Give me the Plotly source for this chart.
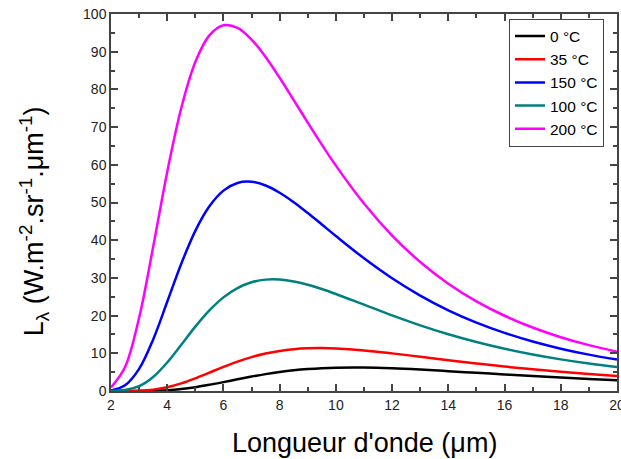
import plotly.graph_objects as go

wavelength_um = [2, 2.5, 3, 3.5, 4, 4.5, 5, 5.5, 6, 6.5, 7, 7.5, 8, 8.5, 9, 9.5, 10,
                 11, 12, 13, 14, 15, 16, 17, 18, 19, 20]

series_names = ["0 °C", "35 °C", "150 °C", "100 °C", "200 °C"]
series_colors = ["#000000", "#FF0000", "#0000FF", "#008080", "#FF00FF"]

L_0C = [0.0000135, 0.00086, 0.0116, 0.066, 0.222, 0.532, 1.013, 1.640, 2.357, 3.105, 3.824, 4.475, 5.029,
        5.475, 5.809, 6.039, 6.173, 6.208, 6.012, 5.677, 5.264, 4.824, 4.386, 3.963, 3.569, 3.208, 2.879]
L_35C = [0.00027, 0.0094, 0.0853, 0.3645, 0.991, 2.012, 3.353, 4.867, 6.392, 7.798, 8.996, 9.948, 10.64,
         11.09, 11.33, 11.38, 11.28, 10.76, 9.979, 9.090, 8.176, 7.299, 6.488, 5.749, 5.090, 4.505, 3.991]
L_150C = [0.154, 1.511, 5.861, 13.69, 23.66, 33.77, 42.48, 48.99, 53.15, 55.19, 55.50, 54.50, 52.58,
          50.07, 47.20, 44.17, 41.11, 35.21, 29.91, 25.31, 21.40, 18.13, 15.41, 13.13, 11.23, 9.645, 8.32]
L_100C = [0.0158, 0.2444, 1.283, 3.724, 7.573, 12.27, 17.07, 21.37, 24.83, 27.31, 28.84, 29.54, 29.56,
          29.07, 28.19, 27.05, 25.74, 22.90, 20.06, 17.42, 15.05, 12.99, 11.21, 9.685, 8.385, 7.278, 6.335]
L_200C = [0.928, 6.36, 19.42, 38.24, 58.12, 75.08, 87.25, 94.33, 97.00, 96.30, 93.22, 88.59, 83.08,
          77.17, 71.18, 65.35, 59.78, 49.72, 41.24, 34.23, 28.47, 23.78, 19.96, 16.84, 14.27, 12.16, 10.41]

all_series = [L_0C, L_35C, L_150C, L_100C, L_200C]

x_ticks = [2, 4, 6, 8, 10, 12, 14, 16, 18, 20]
y_ticks = [0, 10, 20, 30, 40, 50, 60, 70, 80, 90, 100]

fig = go.Figure()
for name, color, ys in zip(series_names, series_colors, all_series):
    fig.add_trace(go.Scatter(x=wavelength_um, y=ys, mode="lines", name=name,
                             line=dict(color=color, width=2.5, shape="spline", smoothing=1.0)))

axis_common = dict(
    showgrid=False, zeroline=False, showline=True, linecolor="#444", linewidth=1.5,
    mirror="allticks", ticks="inside", ticklen=7, tickwidth=1.5, tickcolor="#444",
    ticklabeloverflow="allow", automargin=False,
    tickfont=dict(family="Liberation Sans, Arial, sans-serif", size=14, color="#222"),
)

fig.update_xaxes(range=[2, 20], tickvals=x_ticks, ticktext=[str(v) for v in x_ticks],
                 minor=dict(dtick=1, ticks="inside", ticklen=4, tickwidth=1.5, tickcolor="#444"),
                 **axis_common)
fig.update_yaxes(range=[0, 100], tickvals=y_ticks, ticktext=[str(v) for v in y_ticks],
                 minor=dict(dtick=5, ticks="inside", ticklen=4, tickwidth=1.5, tickcolor="#444"),
                 **axis_common)

title_font = dict(family="Liberation Sans, Arial, sans-serif", size=27, color="#000")
fig.add_annotation(text="Longueur d'onde (μm)", xref="paper", yref="paper", x=0.5, y=0,
                   xanchor="center", yanchor="middle", yshift=-52, showarrow=False, font=title_font)
fig.add_annotation(text="L<sub>λ</sub> (W.m<sup>-2</sup>.sr<sup>-1</sup>.μm<sup>-1</sup>)",
                   xref="paper", yref="paper", x=0, y=0.45, xanchor="center", yanchor="middle",
                   xshift=-77, textangle=-90, showarrow=False, font=title_font)

fig.update_layout(
    width=621, height=459,
    margin=dict(l=111, r=4, t=14, b=68, autoexpand=False),
    paper_bgcolor="white", plot_bgcolor="white",
    showlegend=True,
    legend=dict(x=0.9743, y=0.988, xanchor="right", yanchor="top",
                bgcolor="white", bordercolor="#444", borderwidth=1,
                font=dict(family="Liberation Sans, Arial, sans-serif", size=15.5, color="#000"),
                tracegroupgap=0, itemwidth=30),
)

fig.write_html("out.html", config={"displayModeBar": False},
               post_script="document.body.style.margin='0';document.body.style.overflow='hidden';")
